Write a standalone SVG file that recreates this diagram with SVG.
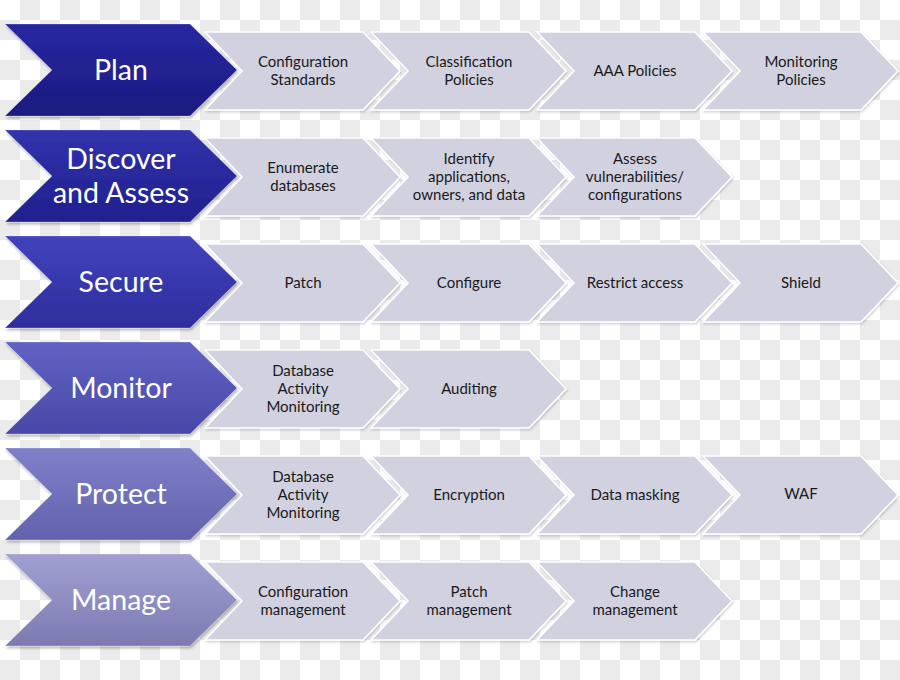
<svg xmlns="http://www.w3.org/2000/svg" width="900" height="680" viewBox="0 0 900 680">
  <defs>
    <pattern id="checker" width="40" height="40" patternUnits="userSpaceOnUse">
      <rect width="40" height="40" fill="#ffffff"/>
      <rect x="20" y="0" width="20" height="20" fill="#ebebeb"/>
      <rect x="0" y="20" width="20" height="20" fill="#ebebeb"/>
    </pattern>
    <filter id="shadow" x="-10%" y="-10%" width="120%" height="130%">
      <feDropShadow dx="1" dy="2" stdDeviation="1.5" flood-color="#000" flood-opacity="0.3"/>
    </filter>
    <filter id="shadowLight" x="-10%" y="-10%" width="120%" height="130%">
      <feDropShadow dx="1" dy="1.5" stdDeviation="1.2" flood-color="#000" flood-opacity="0.18"/>
    </filter>
    <linearGradient id="g1" x1="0" y1="0" x2="0" y2="1"><stop offset="0" stop-color="#2828a2"/><stop offset="1" stop-color="#1a1a80"/></linearGradient>
    <linearGradient id="g2" x1="0" y1="0" x2="0" y2="1"><stop offset="0" stop-color="#3232ac"/><stop offset="1" stop-color="#20208e"/></linearGradient>
    <linearGradient id="g3" x1="0" y1="0" x2="0" y2="1"><stop offset="0" stop-color="#4242bc"/><stop offset="1" stop-color="#2e2e9e"/></linearGradient>
    <linearGradient id="g4" x1="0" y1="0" x2="0" y2="1"><stop offset="0" stop-color="#6262c4"/><stop offset="1" stop-color="#4848a8"/></linearGradient>
    <linearGradient id="g5" x1="0" y1="0" x2="0" y2="1"><stop offset="0" stop-color="#8080ca"/><stop offset="1" stop-color="#6262ac"/></linearGradient>
    <linearGradient id="g6" x1="0" y1="0" x2="0" y2="1"><stop offset="0" stop-color="#a0a0d2"/><stop offset="1" stop-color="#7b7bb2"/></linearGradient>
    <path id="big" d="M5,-46 L190,-46 L237,0 L190,46 L5,46 L52,0 Z"/>
    <path id="small" d="M0,-39 L158,-39 L195,0 L158,39 L0,39 L37,0 Z"/>
  </defs>
  <style>
    .gray { fill: #d1d1e0; stroke: #ffffff; stroke-width: 1.5; filter: url(#shadowLight); }
    .blue { filter: url(#shadow); stroke: #ffffff; stroke-opacity: 0.25; stroke-width: 1; }
    .big { font-family: Lato, "Open Sans", "DejaVu Sans", sans-serif; font-size: 28.5px; fill: #ffffff; text-anchor: middle; }
    .lbl { font-family: Lato, "Open Sans", "DejaVu Sans", sans-serif; font-size: 15px; fill: #1a1a1a; text-anchor: middle; }
  </style>
  <rect width="900" height="680" fill="url(#checker)"/>

  <!-- Row 1: Plan -->
  <g id="plan-configuration-standards" transform="translate(205,71)"><use href="#small" class="gray"/><text class="lbl" x="98" y="-4">Configuration</text><text class="lbl" x="98" y="14">Standards</text></g>
  <g id="plan-classification-policies" transform="translate(371,71)"><use href="#small" class="gray"/><text class="lbl" x="98" y="-4">Classification</text><text class="lbl" x="98" y="14">Policies</text></g>
  <g id="plan-aaa-policies" transform="translate(537,71)"><use href="#small" class="gray"/><text class="lbl" x="98" y="5">AAA Policies</text></g>
  <g id="plan-monitoring-policies" transform="translate(703,71)"><use href="#small" class="gray"/><text class="lbl" x="98" y="-4">Monitoring</text><text class="lbl" x="98" y="14">Policies</text></g>
  <g id="plan" transform="translate(0,70)"><use href="#big" class="blue" fill="url(#g1)"/><text class="big" x="121" y="10">Plan</text></g>

  <!-- Row 2: Discover and Assess -->
  <g id="discover-enumerate" transform="translate(205,177)"><use href="#small" class="gray"/><text class="lbl" x="98" y="-4">Enumerate</text><text class="lbl" x="98" y="14">databases</text></g>
  <g id="discover-identify" transform="translate(371,177)"><use href="#small" class="gray"/><text class="lbl" x="98" y="-13">Identify</text><text class="lbl" x="98" y="5">applications,</text><text class="lbl" x="98" y="23">owners, and data</text></g>
  <g id="discover-assess" transform="translate(537,177)"><use href="#small" class="gray"/><text class="lbl" x="98" y="-13">Assess</text><text class="lbl" x="98" y="5">vulnerabilities/</text><text class="lbl" x="98" y="23">configurations</text></g>
  <g id="discover-and-assess" transform="translate(0,176)"><use href="#big" class="blue" fill="url(#g2)"/><text class="big" x="121" y="-7">Discover</text><text class="big" x="121" y="27">and Assess</text></g>

  <!-- Row 3: Secure -->
  <g id="secure-patch" transform="translate(205,283)"><use href="#small" class="gray"/><text class="lbl" x="98" y="5">Patch</text></g>
  <g id="secure-configure" transform="translate(371,283)"><use href="#small" class="gray"/><text class="lbl" x="98" y="5">Configure</text></g>
  <g id="secure-restrict-access" transform="translate(537,283)"><use href="#small" class="gray"/><text class="lbl" x="98" y="5">Restrict access</text></g>
  <g id="secure-shield" transform="translate(703,283)"><use href="#small" class="gray"/><text class="lbl" x="98" y="5">Shield</text></g>
  <g id="secure" transform="translate(0,282)"><use href="#big" class="blue" fill="url(#g3)"/><text class="big" x="121" y="10">Secure</text></g>

  <!-- Row 4: Monitor -->
  <g id="monitor-dam" transform="translate(205,389)"><use href="#small" class="gray"/><text class="lbl" x="98" y="-13">Database</text><text class="lbl" x="98" y="5">Activity</text><text class="lbl" x="98" y="23">Monitoring</text></g>
  <g id="monitor-auditing" transform="translate(371,389)"><use href="#small" class="gray"/><text class="lbl" x="98" y="5">Auditing</text></g>
  <g id="monitor" transform="translate(0,388)"><use href="#big" class="blue" fill="url(#g4)"/><text class="big" x="121" y="10">Monitor</text></g>

  <!-- Row 5: Protect -->
  <g id="protect-dam" transform="translate(205,495)"><use href="#small" class="gray"/><text class="lbl" x="98" y="-13">Database</text><text class="lbl" x="98" y="5">Activity</text><text class="lbl" x="98" y="23">Monitoring</text></g>
  <g id="protect-encryption" transform="translate(371,495)"><use href="#small" class="gray"/><text class="lbl" x="98" y="5">Encryption</text></g>
  <g id="protect-data-masking" transform="translate(537,495)"><use href="#small" class="gray"/><text class="lbl" x="98" y="5">Data masking</text></g>
  <g id="protect-waf" transform="translate(703,495)"><use href="#small" class="gray"/><text class="lbl" x="98" y="4">WAF</text></g>
  <g id="protect" transform="translate(0,494)"><use href="#big" class="blue" fill="url(#g5)"/><text class="big" x="121" y="10">Protect</text></g>

  <!-- Row 6: Manage -->
  <g id="manage-configuration" transform="translate(205,601)"><use href="#small" class="gray"/><text class="lbl" x="98" y="-4">Configuration</text><text class="lbl" x="98" y="14">management</text></g>
  <g id="manage-patch" transform="translate(371,601)"><use href="#small" class="gray"/><text class="lbl" x="98" y="-4">Patch</text><text class="lbl" x="98" y="14">management</text></g>
  <g id="manage-change" transform="translate(537,601)"><use href="#small" class="gray"/><text class="lbl" x="98" y="-4">Change</text><text class="lbl" x="98" y="14">management</text></g>
  <g id="manage" transform="translate(0,600)"><use href="#big" class="blue" fill="url(#g6)"/><text class="big" x="121" y="10">Manage</text></g>
</svg>
